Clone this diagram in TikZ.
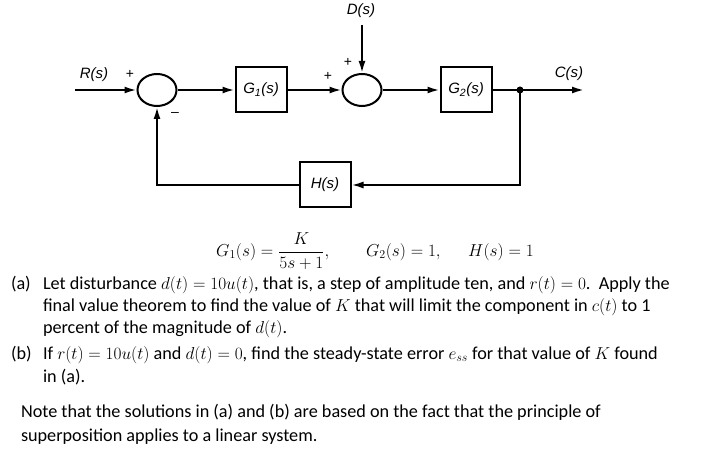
\documentclass[tikz,border=0pt]{standalone}
\usepackage{amsmath}
\usepackage{fontspec}
\setmainfont{Carlito}
\newfontfamily\diagfont{Liberation Sans}
\usetikzlibrary{shapes.geometric,arrows.meta}

\begin{document}
\begin{tikzpicture}[x=1pt, y=-1pt, line width=2pt, >={Latex[length=12pt,width=7pt]},
  block/.style={draw, rectangle, minimum width=51pt, minimum height=45pt, font=\diagfont\itshape\fontsize{15}{17}\selectfont},
  sumnode/.style={draw, ellipse, minimum width=39pt, minimum height=32pt, inner sep=0pt},
  sig/.style={font=\diagfont\itshape\fontsize{15}{17}\selectfont},
  sgn/.style={font=\diagfont\fontsize{14}{15}\selectfont, inner sep=0pt},
  txt/.style={anchor=base west, inner sep=0pt, font=\fontsize{18.2}{21}\selectfont}]
\useasboundingbox (0,0) rectangle (712,470);

% draw the summing points and the blocks
\node[sumnode] (sum1) at (157,90) {};
\node[sumnode] (sum2) at (362,90) {};
\node[block] (g1) at (261,90) {G\textsubscript{1}(s)};
\node[block] (g2) at (466,90) {G\textsubscript{2}(s)};
\node[block] (h) at (325,185) {H(s)};

% free ends of the signals
\coordinate (rin) at (75,90);
\coordinate (din) at (362,25);
\coordinate (branch) at (520,90);
\coordinate (cout) at (584,90);

% signal labels and signs
\node[sig] (rlab) at (94,75) {R(s)};
\node[sig] (dlab) at (361,11) {D(s)};
\node[sig] (clab) at (569,74) {C(s)};
\node[sgn] (p1) at (130,74) {+};
\node[sgn] (m1) at (175,114) {\textendash};
\node[sgn] (p2) at (328,76) {+};
\node[sgn] (p3) at (348,62) {+};

% forward path
\draw[->] (rin) -- (sum1);
\draw[->] (sum1) -- (g1);
\draw[->] (g1) -- (sum2);
\draw[->] (din) -- (sum2);
\draw[->] (sum2) -- (g2);
\draw[->] (g2) -- (cout);
\fill (branch) circle (3.5pt);

% feedback path
\draw[->] (branch) |- (h);
\draw[->] (h) -| (sum1);

% the transfer functions
\node[inner sep=0pt, font=\fontsize{17}{20}\selectfont] (eq) at (375,251)
  {$G_1(s)=\dfrac{K}{5s+1},\qquad G_2(s)=1,\quad\ \ H(s)=1$};

% part (a)
\node[txt] (a0) at (10,290) {(a)};
\node[txt] (a1) at (42,290) {Let disturbance $d(t)=10u(t)$, that is, a step of amplitude ten, and $r(t)=0$.\ \ Apply the};
\node[txt] (a2) at (42,312) {final value theorem to find the value of $K$ that will limit the component in $c(t)$ to 1};
\node[txt] (a3) at (42,334) {percent of the magnitude of $d(t)$.};

% part (b)
\node[txt] (b0) at (10,359) {(b)};
\node[txt] (b1) at (42,359) {If $r(t)=10u(t)$ and $d(t)=0$, find the steady-state error $e_{ss}$ for that value of $K$ found};
\node[txt] (b2) at (42,382) {in (a).};

% the note
\node[txt] (n1) at (20,417) {Note that the solutions in (a) and (b) are based on the fact that the principle of};
\node[txt] (n2) at (20,441) {superposition applies to a linear system.};
\end{tikzpicture}
\end{document}
